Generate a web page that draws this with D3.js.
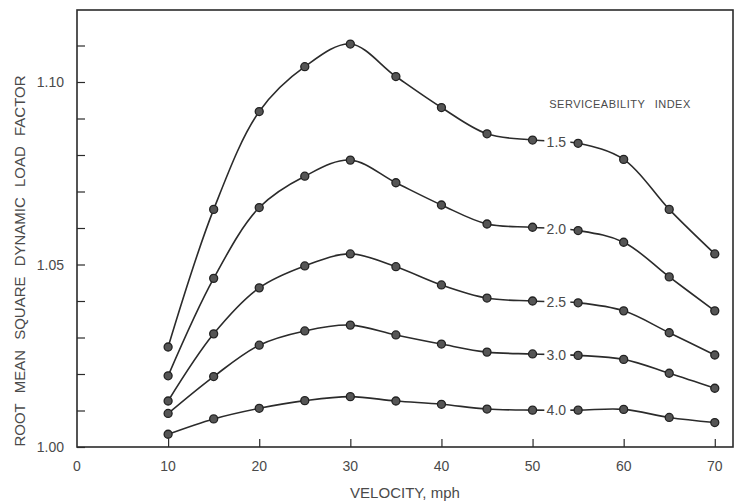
<!DOCTYPE html>
<html>
<head>
<meta charset="utf-8">
<script src="https://cdn.jsdelivr.net/npm/d3@7"></script>
<style>
  html, body { margin: 0; padding: 0; background: #fff; }
  svg { display: block; }
  text { font-family: "Liberation Sans", "DejaVu Sans", sans-serif; fill: #4a4a4a; }
</style>
</head>
<body>
<svg id="chart" width="744" height="504"></svg>
<script>
// Velocity (mph) at which the load factor was computed
const velocities = [10, 15, 20, 25, 30, 35, 40, 45, 50, 55, 60, 65, 70];

// Serviceability index of each curve
const indexLabels = ["1.5", "2.0", "2.5", "3.0", "4.0"];

// Root mean square dynamic load factor per serviceability index
const rms15 = [1.0274, 1.0651, 1.0919, 1.1042, 1.1104, 1.1015, 1.0930, 1.0858, 1.0841, 1.0832, 1.0788, 1.0651, 1.0529];
const rms20 = [1.0195, 1.0462, 1.0656, 1.0742, 1.0786, 1.0724, 1.0663, 1.0611, 1.0602, 1.0593, 1.0561, 1.0466, 1.0373];
const rms25 = [1.0126, 1.0310, 1.0436, 1.0496, 1.0529, 1.0494, 1.0444, 1.0408, 1.0400, 1.0395, 1.0373, 1.0313, 1.0252];
const rms30 = [1.0092, 1.0193, 1.0279, 1.0318, 1.0334, 1.0307, 1.0282, 1.0260, 1.0255, 1.0251, 1.0240, 1.0202, 1.0161];
const rms40 = [1.0035, 1.0077, 1.0106, 1.0127, 1.0138, 1.0126, 1.0117, 1.0104, 1.0101, 1.0101, 1.0103, 1.0081, 1.0067];

// Axis ticks
const xTickValues = [0, 10, 20, 30, 40, 50, 60, 70];
const yTickLabels = ["1.00", "1.05", "1.10"];

const seriesValues = [rms15, rms20, rms25, rms30, rms40];
const series = indexLabels.map((label, i) => ({
  label,
  points: velocities.map((v, j) => ({ x: v, y: seriesValues[i][j] }))
}));

const svg = d3.select("#chart");
const plotLeft = 77, plotRight = 733, plotTop = 9, plotBottom = 447;

const x = d3.scaleLinear().domain([0, 72]).range([plotLeft, plotRight]);
const y = d3.scaleLinear().domain([1.0, 1.12]).range([plotBottom, plotTop]);

const ink = "#2b2b2b";

// Frame
svg.append("rect")
  .attr("x", plotLeft).attr("y", plotTop + 1)
  .attr("width", plotRight - plotLeft).attr("height", plotBottom - plotTop - 1)
  .attr("fill", "none").attr("stroke", ink).attr("stroke-width", 1.6);

// Bottom axis (ticks pointing inward)
const xAxis = d3.axisBottom(x)
  .tickValues(xTickValues.filter(d => d > 0))
  .tickSize(-8)
  .tickFormat("");
svg.append("g")
  .attr("transform", `translate(0,${plotBottom})`)
  .call(xAxis)
  .call(g => g.select(".domain").remove())
  .call(g => g.selectAll(".tick line").attr("stroke", ink).attr("stroke-width", 1.2));

svg.append("g").selectAll("text")
  .data(xTickValues)
  .join("text")
  .attr("x", d => x(d))
  .attr("y", 471)
  .attr("text-anchor", "middle")
  .attr("font-size", 14)
  .text(d => d);

// Left axis (minor ticks every 0.01, labels every 0.05)
const yAxis = d3.axisLeft(y)
  .tickValues(d3.range(1.0, 1.1151, 0.01))
  .tickSize(-8)
  .tickFormat("");
svg.append("g")
  .attr("transform", `translate(${plotLeft},0)`)
  .call(yAxis)
  .call(g => g.select(".domain").remove())
  .call(g => g.selectAll(".tick line").attr("stroke", ink).attr("stroke-width", 1.2));

svg.append("g").selectAll("text")
  .data(yTickLabels)
  .join("text")
  .attr("x", 64)
  .attr("y", d => y(+d) + 5)
  .attr("text-anchor", "end")
  .attr("font-size", 14)
  .text(d => d);

// Axis titles
svg.append("text")
  .attr("x", 405).attr("y", 498)
  .attr("text-anchor", "middle")
  .attr("font-size", 15)
  .text("VELOCITY, mph");

svg.append("text")
  .attr("transform", "translate(25,261) rotate(-90)")
  .attr("text-anchor", "middle")
  .attr("font-size", 15)
  .attr("word-spacing", 6)
  .text("ROOT MEAN SQUARE DYNAMIC LOAD FACTOR");

svg.append("text")
  .attr("x", 620).attr("y", 108)
  .attr("text-anchor", "middle")
  .attr("font-size", 11)
  .attr("letter-spacing", 0.5)
  .attr("word-spacing", 6)
  .text("SERVICEABILITY INDEX");

// Curves
const line = d3.line()
  .x(d => x(d.x))
  .y(d => y(d.y))
  .curve(d3.curveCatmullRom.alpha(0.5));

const groups = svg.append("g").selectAll("g")
  .data(series)
  .join("g");

groups.append("path")
  .attr("d", d => line(d.points))
  .attr("fill", "none")
  .attr("stroke", ink)
  .attr("stroke-width", 1.6);

// Index labels sit on the curve between 50 and 55 mph
groups.each(function (d) {
  const g = d3.select(this);
  const p50 = d.points[8], p55 = d.points[9];
  const cx = x((p50.x + p55.x) / 2);
  const cy = y((p50.y + p55.y) / 2);
  g.append("rect")
    .attr("x", cx - 11).attr("y", cy - 8)
    .attr("width", 26).attr("height", 16)
    .attr("fill", "#fff");
  g.append("text")
    .attr("x", cx + 1).attr("y", cy + 5)
    .attr("text-anchor", "middle")
    .attr("font-size", 14)
    .text(d.label);
});

// Data points
groups.selectAll("circle")
  .data(d => d.points)
  .join("circle")
  .attr("cx", d => x(d.x))
  .attr("cy", d => y(d.y))
  .attr("r", 4)
  .attr("fill", "#555")
  .attr("stroke", "#222")
  .attr("stroke-width", 1.3);
</script>
</body>
</html>
